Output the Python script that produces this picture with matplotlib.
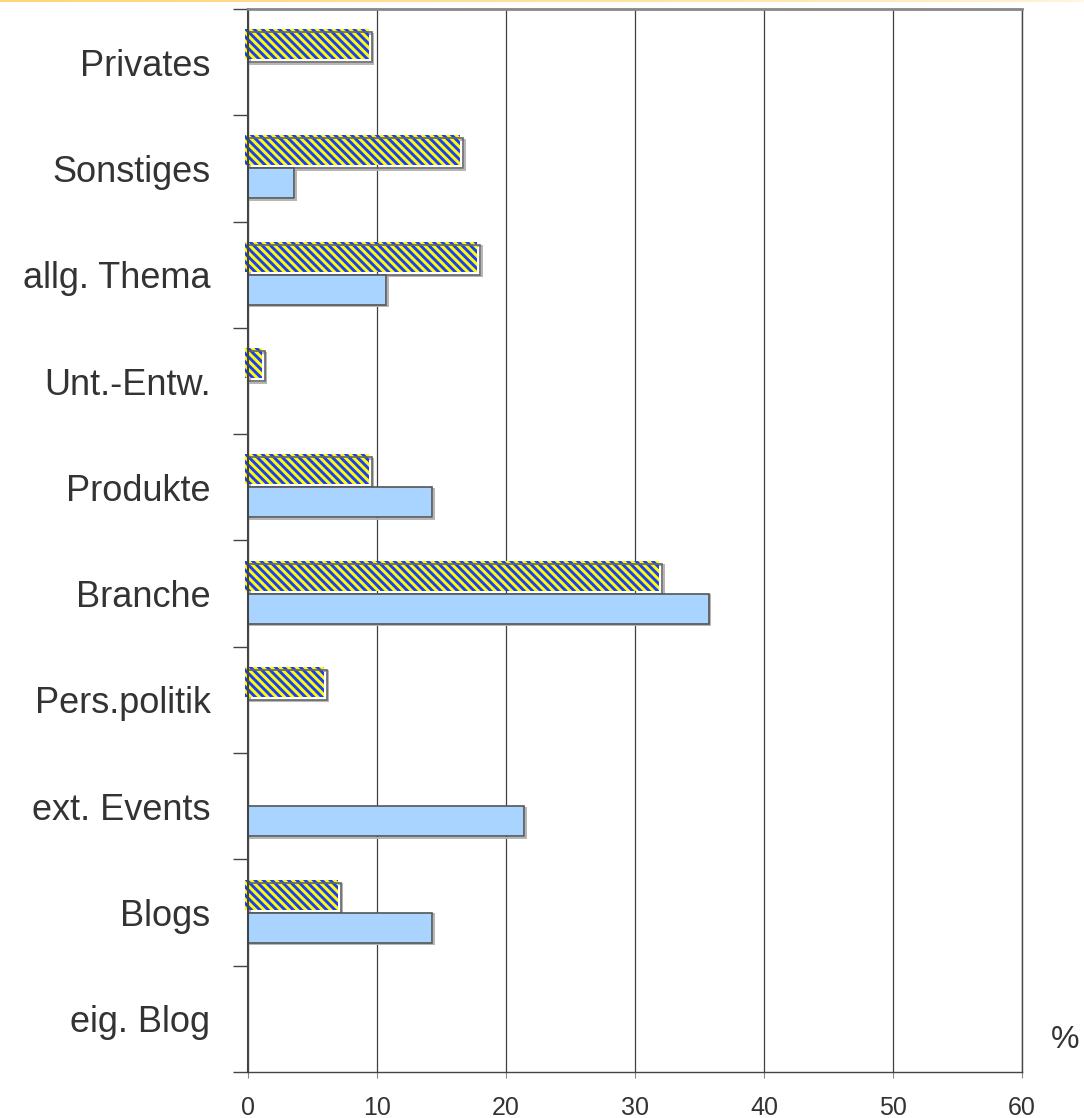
import numpy as np
import matplotlib
matplotlib.use('Agg')
import matplotlib.pyplot as plt
import matplotlib.transforms as mtransforms

categories = ['Privates', 'Sonstiges', 'allg. Thema', 'Unt.-Entw.', 'Produkte',
              'Branche', 'Pers.politik', 'ext. Events', 'Blogs', 'eig. Blog']
# patterned series (upper bar of each pair), in %
series_a = [9.6, 16.7, 18.0, 1.3, 9.6, 32.1, 6.1, 0, 7.2, 0]
# light blue series (lower bar), in %
series_b = [0, 3.6, 10.7, 0, 14.3, 35.7, 0, 21.4, 14.3, 0]
xticks = [0, 10, 20, 30, 40, 50, 60]

plt.rcParams['font.family'] = ['Liberation Sans', 'DejaVu Sans']
plt.rcParams['hatch.linewidth'] = 2.1

W, H = 1084, 1118
fig = plt.figure(figsize=(W / 100, H / 100), dpi=100)
ax = fig.add_axes([248 / W, 1 - 1072 / H, (1022 - 248) / W, (1072 - 9) / H])

pos = np.arange(len(categories))
a = np.array(series_a)
b = np.array(series_b)
h = 0.282
ma = a > 0
mb = b > 0


def shifted(dx, dy):
    return mtransforms.offset_copy(ax.transData, fig=fig, x=dx, y=dy, units='dots')


# light shadows behind the bar frames
for vals, m, yc in [(a, ma, pos - h / 2), (b, mb, pos + h / 2)]:
    sh = ax.barh(yc[m], vals[m], height=h, facecolor='none', edgecolor='#b4b4b4',
                 linewidth=1.4, zorder=3)
    for r in sh:
        r.set_transform(shifted(1.5, -1.5))

# yellow/blue pattern sits a little up and left of its frame
pat = ax.barh(pos[ma] - h / 2, a[ma], height=h, facecolor='#ffff00', edgecolor='#1a3cff',
              hatch='\\\\\\\\', linewidth=0, zorder=4)
for r in pat:
    r.set_transform(shifted(-3, 3))
    r.set_clip_on(False)
    if hasattr(r, 'set_hatch_linewidth'):
        r.set_hatch_linewidth(2.1)
ax.barh(pos[ma] - h / 2, a[ma], height=h, facecolor='none', edgecolor='#666666',
        linewidth=1.2, zorder=5)

ax.barh(pos[mb] + h / 2, b[mb], height=h, facecolor='#a8d4ff', edgecolor='#555555',
        linewidth=1.2, zorder=5)

ax.set_xlim(0, 60)
ax.set_ylim(9.5, -0.5)
ax.set_xticks(xticks)
ax.set_xticklabels([str(t) for t in xticks])
ax.set_yticks(pos)
ax.set_yticklabels(categories)
ax.set_yticks(np.arange(-0.5, 10, 1), minor=True)

ax.tick_params(axis='y', which='major', length=0, pad=27, labelsize=26, labelcolor='#333333')
ax.tick_params(axis='y', which='minor', length=10.5, width=1.0, color='#444444')
ax.tick_params(axis='x', length=4, width=0.8, color='#888888', pad=13,
               labelsize=18, labelcolor='#333333')

ax.set_axisbelow(True)
ax.xaxis.grid(True, color='#404040', linewidth=0.9)

ax.spines['left'].set_color('#444444')
ax.spines['left'].set_linewidth(1.5)
ax.spines['top'].set_color('#888888')
ax.spines['top'].set_linewidth(2.0)
ax.spines['right'].set_color('#444444')
ax.spines['right'].set_linewidth(1.0)
ax.spines['bottom'].set_color('#444444')
ax.spines['bottom'].set_linewidth(1.0)
for s in ax.spines.values():
    s.set_zorder(6)

fig.text(1065 / W, 1 - 1040 / H, '%', fontsize=23, color='#333333', ha='center', va='center')

# thin warm band along the top edge, fading to the right
band = fig.add_axes([0, 1 - 2 / H, 1, 2 / H])
grad = np.linspace(0, 1, 256)
c0 = np.array([255, 214, 120]) / 255
c1 = np.array([255, 246, 228]) / 255
img = c0[None, None, :] * (1 - grad[None, :, None]) ** 0.6 + c1[None, None, :] * (1 - (1 - grad[None, :, None]) ** 0.6)
band.imshow(img, aspect='auto', extent=[0, 1, 0, 1])
band.axis('off')

fig.savefig('out.png', dpi=100)
